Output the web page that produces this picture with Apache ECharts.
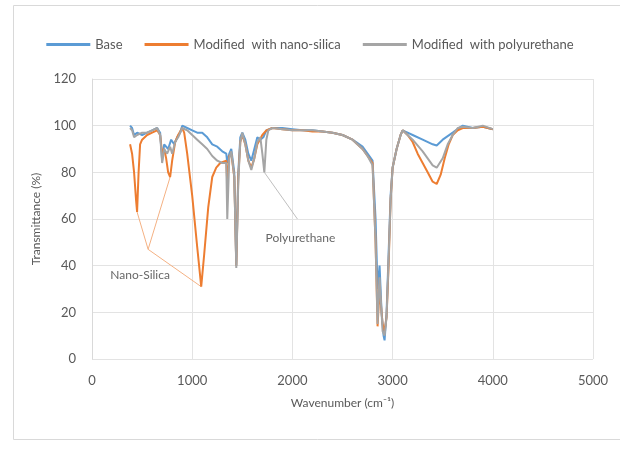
<!DOCTYPE html>
<html>
<head>
<meta charset="utf-8">
<script src="https://cdn.jsdelivr.net/npm/echarts@6/dist/echarts.min.js"></script>
<style>
  html, body { margin: 0; padding: 0; background: #fff; }
  #chart { width: 620px; height: 449px; }
</style>
</head>
<body>
<div id="chart"></div>
<script>
// FTIR spectra, [wavenumber, transmittance %]
const baseData = [
  [380, 100], [400, 99], [420, 96], [450, 97], [500, 96], [550, 97], [600, 98], [650, 99],
  [680, 97], [700, 85], [720, 92], [760, 90], [790, 94], [820, 92], [850, 95], [880, 97],
  [900, 100], [950, 99], [1000, 98], [1050, 97], [1100, 97], [1150, 95], [1200, 92],
  [1250, 91], [1300, 89], [1340, 88], [1350, 84], [1370, 88], [1390, 90], [1420, 80],
  [1440, 40], [1460, 80], [1480, 95], [1500, 97], [1530, 94], [1560, 88], [1590, 85],
  [1620, 90], [1650, 95], [1680, 94], [1710, 95], [1740, 98], [1800, 99], [1900, 99],
  [2000, 98.5], [2100, 98], [2200, 98], [2300, 97.5], [2400, 97], [2500, 96], [2600, 94],
  [2700, 91], [2750, 88], [2800, 85], [2830, 60], [2850, 30], [2870, 40], [2890, 20],
  [2910, 10], [2920, 8], [2940, 20], [2960, 45], [2980, 70], [3000, 82], [3040, 90],
  [3080, 96], [3100, 98], [3150, 97], [3200, 96], [3300, 94], [3400, 92], [3440, 91.5],
  [3500, 94], [3600, 97], [3680, 99.5], [3700, 100], [3800, 99], [3900, 99.5], [4000, 98.5]
]
const nanoSilicaData = [
  [380, 92], [400, 88], [420, 80], [440, 68], [450, 63], [465, 80], [480, 92], [500, 94],
  [550, 96], [600, 97], [650, 98], [680, 96], [700, 88], [720, 90], [740, 86], [760, 80],
  [780, 78], [800, 85], [830, 93], [860, 96], [900, 99], [920, 97], [950, 88], [1000, 70],
  [1050, 48], [1090, 31], [1120, 45], [1160, 65], [1200, 78], [1240, 82], [1280, 84],
  [1340, 85], [1350, 75], [1370, 87], [1390, 88], [1420, 78], [1440, 40], [1460, 78],
  [1480, 93], [1500, 96], [1530, 92], [1560, 85], [1590, 82], [1620, 86], [1650, 92],
  [1700, 96], [1740, 98], [1800, 99], [1900, 98.5], [2000, 98], [2100, 98], [2200, 97.5],
  [2300, 97.5], [2400, 97], [2500, 96], [2600, 94], [2700, 90], [2750, 87], [2800, 84],
  [2830, 50], [2850, 14], [2870, 30], [2900, 15], [2920, 12], [2940, 18], [2960, 40],
  [2980, 68], [3000, 82], [3040, 90], [3080, 96], [3100, 98], [3150, 96], [3200, 93],
  [3250, 88], [3300, 84], [3350, 80], [3400, 76], [3440, 75], [3480, 79], [3520, 86],
  [3560, 92], [3600, 96], [3650, 98], [3700, 99], [3800, 99], [3900, 99.5], [4000, 98.5]
]
const polyurethaneData = [
  [380, 99], [400, 98], [420, 95], [450, 96], [500, 97], [550, 97], [600, 98], [650, 99],
  [680, 96], [700, 84], [720, 90], [750, 88], [780, 91], [800, 88], [830, 93], [860, 95],
  [900, 99], [950, 98], [1000, 96], [1050, 94], [1100, 92], [1150, 90], [1200, 87],
  [1250, 85], [1300, 84], [1340, 84], [1350, 60], [1370, 86], [1390, 89], [1420, 78],
  [1440, 39], [1460, 76], [1480, 93], [1500, 97], [1530, 92], [1560, 85], [1590, 81],
  [1620, 86], [1650, 93], [1680, 95], [1700, 88], [1720, 80], [1740, 94], [1760, 98],
  [1800, 99], [1900, 98.5], [2000, 98], [2100, 98], [2200, 98], [2300, 97.5], [2400, 97],
  [2500, 96], [2600, 94], [2700, 90], [2750, 87], [2800, 83], [2830, 50], [2850, 15],
  [2870, 35], [2900, 12], [2920, 10], [2940, 18], [2960, 42], [2980, 68], [3000, 82],
  [3040, 90], [3080, 96], [3100, 98], [3150, 96], [3200, 94], [3300, 89], [3400, 83],
  [3440, 82], [3500, 86], [3550, 92], [3600, 96], [3650, 99], [3700, 99.5], [3800, 99],
  [3900, 100], [4000, 98.5]
]

const seriesNames = ['Base', 'Modified  with nano-silica', 'Modified  with polyurethane']
const seriesColors = ['#5b9bd5', '#ed7d31', '#a5a5a5']

// leader lines for the callouts, in data coordinates
const nanoSilicaPoints = [[450, 63], [780, 78], [1090, 31]]
const nanoSilicaHub = [560, 47]
const polyurethanePoint = [1720, 80]
const polyurethaneHub = [2050, 60]

const font = 'Lato, "Open Sans", sans-serif'
const textColor = '#595959'

const chart = echarts.init(document.getElementById('chart'))

const leader = (from, to, color) => ({
  type: 'line',
  data: [from, to],
  symbol: 'none',
  silent: true,
  lineStyle: { color, width: 1 },
  z: 1
})

chart.setOption({
  animation: false,
  textStyle: { fontFamily: font },
  graphic: [{
    type: 'rect',
    shape: { x: 13.5, y: 5.5, width: 620, height: 434 },
    style: { fill: 'none', stroke: '#d9d9d9', lineWidth: 1 },
    silent: true
  }],
  legend: {
    top: 33,
    left: 'center',
    itemWidth: 44,
    itemHeight: 3,
    itemGap: 22,
    icon: 'rect',
    textStyle: { color: textColor, fontSize: 13, fontFamily: font },
    data: seriesNames
  },
  grid: { left: 92, right: 27, top: 79, bottom: 90 },
  xAxis: {
    type: 'value',
    min: 0,
    max: 5000,
    interval: 1000,
    name: 'Wavenumber (cm⁻¹)',
    nameLocation: 'middle',
    nameGap: 38,
    nameTextStyle: { color: textColor, fontSize: 12 },
    axisLine: { show: false },
    axisTick: { show: false },
    axisLabel: { color: textColor, fontSize: 13, margin: 15, formatter: v => String(v) },
    splitLine: { show: true, lineStyle: { color: '#e3e3e3' } }
  },
  yAxis: {
    type: 'value',
    min: 0,
    max: 120,
    interval: 20,
    name: 'Transmittance (%)',
    nameLocation: 'middle',
    nameGap: 50,
    nameTextStyle: { color: textColor, fontSize: 12 },
    axisLine: { show: true, lineStyle: { color: '#d9d9d9' } },
    axisTick: { show: false },
    axisLabel: { color: textColor, fontSize: 13, margin: 16 },
    splitLine: { lineStyle: { color: '#e3e3e3' } }
  },
  series: [
    ...nanoSilicaPoints.map(p => leader(nanoSilicaHub, p, '#f4b183')),
    leader(polyurethaneHub, polyurethanePoint, '#bfbfbf'),
    ...[baseData, nanoSilicaData, polyurethaneData].map((d, i) => ({
      name: seriesNames[i],
      type: 'line',
      data: d,
      symbol: 'none',
      lineStyle: { color: seriesColors[i], width: 2 },
      itemStyle: { color: seriesColors[i] },
      z: 2 + i
    })),
    {
      type: 'scatter',
      data: [[480, 36, 'Nano-Silica'], [2080, 52, 'Polyurethane']],
      symbolSize: 0,
      silent: true,
      label: {
        show: true,
        formatter: p => p.data[2],
        color: '#404040',
        fontSize: 12,
        fontFamily: font
      }
    }
  ]
})
</script>
</body>
</html>
